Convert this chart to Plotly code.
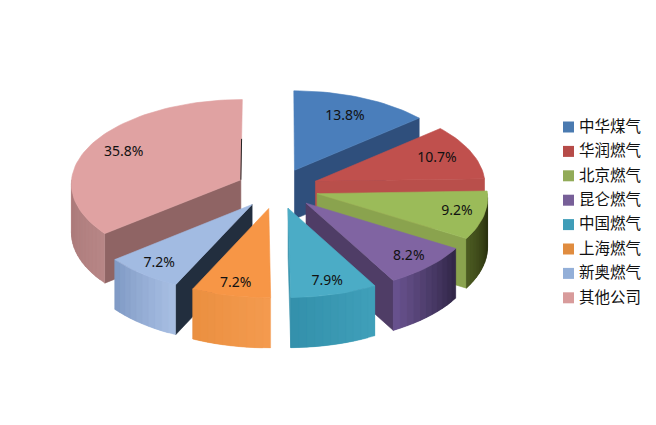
import math
import plotly.graph_objects as go

companies = ["中华煤气", "华润燃气", "北京燃气", "昆仑燃气", "中国燃气", "上海燃气", "新奥燃气", "其他公司"]
shares = [13.8, 10.7, 9.2, 8.2, 7.9, 7.2, 7.2, 35.8]

top_colors = ["#4a7ebb", "#c0504d", "#9bbb59", "#8064a2", "#4bacc6", "#f79646", "#a2bbe2", "#e0a2a2"]
legend_colors = ["#4a7ab0", "#b64b48", "#92ab58", "#775f98", "#3f9db8", "#e08c3f", "#93afd8", "#d89b9b"]
cut_colors = ["#2f4f7c", "#b94f4b", "#8aa34e", "#4f3d66", "#3a94ad", "#e08a3e", "#222e3e", "#8f6464"]
wall_left = ["#2f4f7c", "#bb4f4b", "#4d5c22", "#6a5390", "#3390ab", "#ea8f40", "#7f99c4", "#a87878"]
wall_right = ["#2f4f7c", "#bb4f4b", "#1d2208", "#2f2545", "#40a0ba", "#f49b4f", "#a9c0e4", "#b88686"]
label_radius = [0.74, 0.78, 0.84, 0.84, 0.85, 0.87, 0.85, 0.78]
draw_order = [0, 7, 1, 6, 2, 5, 3, 4]

CX, CY, A, B, K, DEPTH, EXPLODE = 277.5, 188.5, 170, 84.3, 0.04, 49, 0.24
W, H = 656, 425


def project(wx, wy, z=0):
    s = 1 + K * wy
    return CX + A * wx * s, CY + B * wy * s + z * DEPTH * (1 + 0.02 * wy)


def mix(c1, c2, t):
    a = [int(c1[i:i + 2], 16) for i in (1, 3, 5)]
    b = [int(c2[i:i + 2], 16) for i in (1, 3, 5)]
    return "#%02x%02x%02x" % tuple(round(p + (q - p) * t) for p, q in zip(a, b))


def poly(fig, pts, color, lw=0.6):
    fig.add_trace(go.Scatter(
        x=[p[0] for p in pts] + [pts[0][0]], y=[p[1] for p in pts] + [pts[0][1]],
        mode="lines", fill="toself", fillcolor=color,
        line=dict(color=color, width=lw), hoverinfo="skip", showlegend=False))


total = sum(shares)
bounds = [0]
for v in shares:
    bounds.append(bounds[-1] + v / total * 360)

fig = go.Figure()
labels_x, labels_y, labels_t = [], [], []

for i in draw_order:
    t0, t1 = bounds[i], bounds[i + 1]
    mid = math.radians((t0 + t1) / 2)
    ox, oy = EXPLODE * math.sin(mid), -EXPLODE * math.cos(mid)

    def rim(deg, r=1.0):
        a = math.radians(deg)
        return ox + r * math.sin(a), oy - r * math.cos(a)

    sin0, sin1 = math.sin(math.radians(t0)), math.sin(math.radians(t1))
    # radial cut faces
    if sin0 < -1e-6:
        poly(fig, [project(ox, oy), project(*rim(t0)), project(*rim(t0), 1), project(ox, oy, 1)], cut_colors[i])
    if sin1 > 1e-6:
        poly(fig, [project(ox, oy), project(*rim(t1)), project(*rim(t1), 1), project(ox, oy, 1)], cut_colors[i])
    # outer wall as shaded strips, each one running under the next so no seams show
    lo, hi = max(t0, 90), min(t1, 270)
    if hi > lo:
        n = max(2, int((hi - lo) / 2.5))
        steps = [lo + (hi - lo) * j / n for j in range(n + 1)]
        for j in range(n):
            a, b = steps[j], steps[min(j + 2, n)]
            pa, pb = project(*rim(a)), project(*rim(steps[j + 1]))
            u = (j + 0.5) / n
            if pb[0] > pa[0]:
                c = mix(wall_left[i], wall_right[i], u)
            else:
                c = mix(wall_left[i], wall_right[i], 1 - u)
            poly(fig, [project(*rim(a)), project(*rim(b)), project(*rim(b), 1), project(*rim(a), 1)], c, 0.3)
    # top face
    n = max(4, int((t1 - t0) / 2))
    pts = [project(ox, oy)] + [project(*rim(t0 + (t1 - t0) * j / n)) for j in range(n + 1)]
    poly(fig, pts, top_colors[i])
    if i == 7:  # thin dark sliver of the far cut face
        p, q = project(ox, oy), project(*rim(t1, 0.5))
        fig.add_trace(go.Scatter(x=[p[0], q[0]], y=[p[1], q[1]], mode="lines",
                                 line=dict(color="#222222", width=1),
                                 hoverinfo="skip", showlegend=False))
    lx, ly = project(*rim((t0 + t1) / 2, label_radius[i]))
    labels_x.append(lx)
    labels_y.append(ly)
    labels_t.append(f"{shares[i]}%")

fig.add_trace(go.Scatter(
    x=labels_x, y=labels_y, text=labels_t, mode="text", textposition="middle center",
    textfont=dict(family="Noto Sans", size=14, color="#111111"),
    hoverinfo="skip", showlegend=False))

# key at the right: swatch and name per company
for i, name in enumerate(companies):
    y = 127 + 24.4 * i
    fig.add_trace(go.Scatter(
        x=[568.5], y=[y], mode="markers", name=name, hoverinfo="name", showlegend=False,
        marker=dict(symbol="square", size=11, color=legend_colors[i])))
    fig.add_trace(go.Scatter(
        x=[579], y=[y + 1], mode="text", text=[name], textposition="middle right",
        textfont=dict(family="Noto Sans CJK SC", size=15.5, color="#111111"),
        hoverinfo="skip", showlegend=False))

fig.update_layout(
    width=W, height=H, margin=dict(l=0, r=0, t=0, b=0),
    paper_bgcolor="white", plot_bgcolor="white", showlegend=False,
    xaxis=dict(range=[0, W], visible=False, fixedrange=True),
    yaxis=dict(range=[H, 0], visible=False, fixedrange=True),
)
fig.write_html("out.html", config={"displayModeBar": False},
               post_script="document.body.style.margin='0';document.documentElement.style.overflow='hidden';")
